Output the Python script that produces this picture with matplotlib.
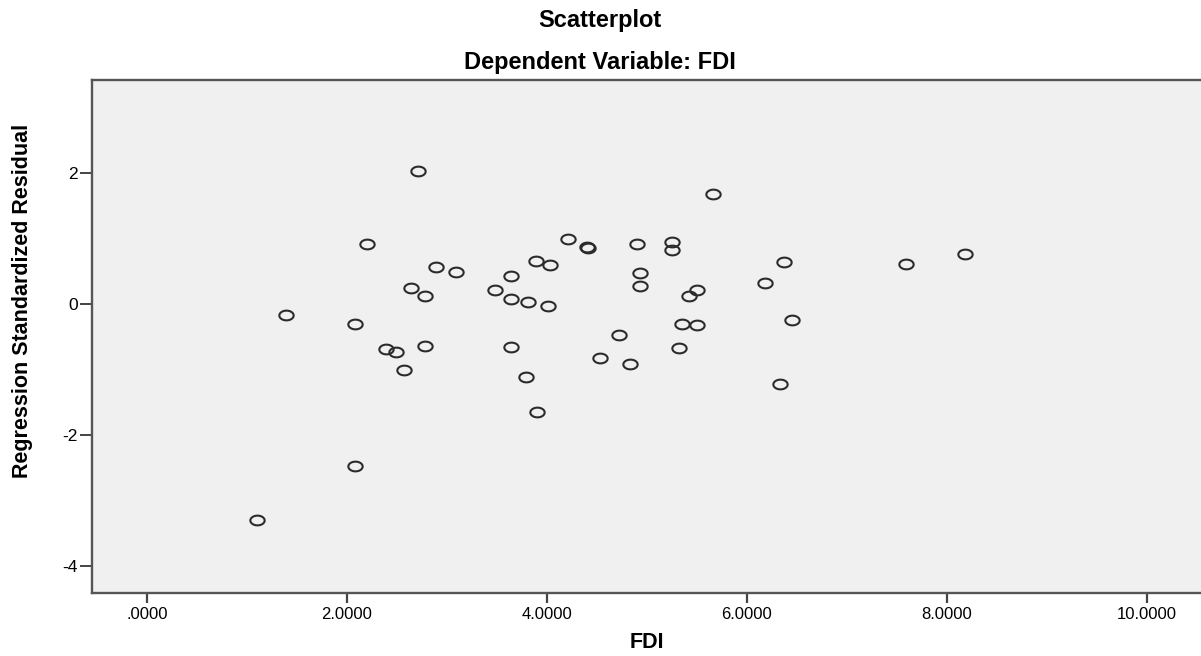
import numpy as np
import matplotlib
matplotlib.use("Agg")
from matplotlib import pyplot as plt
from matplotlib.path import Path

plt.rcParams['font.family'] = ['Liberation Sans', 'DejaVu Sans']

# values
fdi = [2.71, 2.20, 2.89, 3.09, 2.64, 2.78, 1.39, 2.08, 2.78, 2.39, 2.49, 2.57,
       2.08, 1.10, 5.66, 4.21, 4.40, 4.41, 4.90, 5.25, 5.25, 6.37, 3.89, 4.03,
       3.64, 4.93, 4.93, 6.18, 3.48, 3.64, 3.81, 4.01, 5.50, 5.42, 5.35, 5.50,
       6.45, 4.72, 3.64, 5.32, 4.53, 4.83, 3.79, 6.33, 3.90, 7.59, 8.18]
resid = [2.03, 0.91, 0.57, 0.49, 0.25, 0.12, -0.16, -0.30, -0.64, -0.68, -0.73, -1.01,
         -2.47, -3.29, 1.68, 1.00, 0.87, 0.86, 0.91, 0.94, 0.83, 0.64, 0.66, 0.59,
         0.43, 0.48, 0.27, 0.32, 0.21, 0.08, 0.03, -0.03, 0.22, 0.13, -0.31, -0.32,
         -0.24, -0.47, -0.65, -0.67, -0.83, -0.91, -1.12, -1.22, -1.64, 0.61, 0.77]

x_ticks = [0, 2, 4, 6, 8, 10]
x_ticklabels = ['.0000', '2.0000', '4.0000', '6.0000', '8.0000', '10.0000']
y_ticks = [-4, -2, 0, 2]
y_ticklabels = ['-4', '-2', '0', '2']

W, H = 1201, 656
fig = plt.figure(figsize=(W / 100, H / 100), dpi=100)
ax = fig.add_axes([92 / W, (H - 593) / H, (W - 92) / W, (593 - 80) / H])
ax.set_facecolor('#f0f0f0')

# the reference is stretched sideways, so the circles are ellipses
t = np.linspace(0, 2 * np.pi, 60)
ellipse = Path(np.column_stack([np.cos(t), 0.68 * np.sin(t)]), closed=True)

ax.plot(fdi, resid, linestyle='none', marker=ellipse, markersize=10.3,
        markerfacecolor='none', markeredgecolor='#2b2b2b', markeredgewidth=1.5)

ax.set_xlim(-0.55, 10.54)
ax.set_ylim(-4.41, 3.42)
ax.set_xticks(x_ticks)
ax.set_xticklabels(x_ticklabels, fontsize=12)
ax.set_yticks(y_ticks)
ax.set_yticklabels(y_ticklabels, fontsize=12.5)
ax.tick_params(axis='x', length=7, width=1.6, color='#444444', pad=3)
ax.tick_params(axis='y', length=9, width=1.4, color='#444444', pad=1)

for side in ['left', 'bottom', 'top']:
    ax.spines[side].set_color('#555555')
    ax.spines[side].set_linewidth(1.7)
ax.spines['right'].set_visible(False)

fig.text(600 / W, 1 - 21 / H, 'Scatterplot', ha='center', va='center',
         fontsize=17, fontweight='bold')
fig.text(600 / W, 1 - 62 / H, 'Dependent Variable: FDI', ha='center', va='center',
         fontsize=17, fontweight='bold')
fig.text(647 / W, 1 - 643 / H, 'FDI', ha='center', va='center',
         fontsize=15.5, fontweight='bold')
fig.text(23 / W, 1 - 301 / H, 'Regression Standardized Residual', ha='center',
         va='center', rotation=90, fontsize=15.5, fontweight='bold')

fig.savefig('out.png', dpi=100)
